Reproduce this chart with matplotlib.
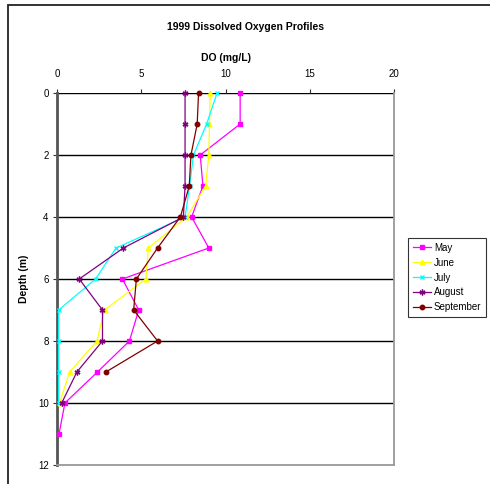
import matplotlib
matplotlib.use("Agg")
import matplotlib.pyplot as plt
from matplotlib.patches import Rectangle

plt.rcParams['font.family'] = ['Liberation Sans', 'DejaVu Sans']

# Dissolved oxygen (mg/L) by depth (m), 1999 monthly profiles
may_depth = [0, 1, 2, 3, 4, 5, 6, 7, 8, 9, 10, 11]
may_do = [10.87, 10.87, 8.5, 8.66, 7.99, 9.01, 3.88, 4.85, 4.3, 2.4, 0.47, 0.12]

june_depth = [0, 1, 2, 3, 4, 5, 6, 7, 8, 9, 10]
june_do = [9.09, 9.05, 9.01, 8.82, 7.7, 5.42, 5.27, 2.82, 2.37, 0.75, 0.15]

july_depth = [0, 1, 2, 3, 4, 5, 6, 7, 8, 9, 10]
july_do = [9.5, 8.88, 8.1, 7.87, 7.6, 3.5, 2.29, 0.1, 0.1, 0.1, 0.1]

aug_depth = [0, 1, 2, 3, 4, 5, 6, 7, 8, 9, 10]
aug_do = [7.6, 7.6, 7.6, 7.6, 7.5, 3.94, 1.32, 2.7, 2.7, 1.18, 0.28]

sep_depth = [0, 1, 2, 3, 4, 5, 6, 7, 8, 9]
sep_do = [8.4, 8.32, 7.95, 7.85, 7.32, 5.97, 4.71, 4.55, 5.97, 2.9]

x_ticks = [0, 5, 10, 15, 20]
y_ticks = [0, 2, 4, 6, 8, 10, 12]

fig = plt.figure(figsize=(4.9, 4.84), dpi=100)

# outer chart border
fig.patches.append(Rectangle((8 / 490, -0.1), 1.2, 1 - 5 / 484 + 0.1,
                             transform=fig.transFigure, fill=False,
                             edgecolor='#222222', linewidth=1.3))

ax = fig.add_axes([57 / 490, 1 - 465 / 484, (394 - 57) / 490, (465 - 93) / 484])

series = [
    ('May', may_do, may_depth, '#FF00FF', 's', 3.0),
    ('June', june_do, june_depth, '#FFFF00', '^', 3.4),
    ('July', july_do, july_depth, '#00FFFF', 'x', 3.4),
    ('August', aug_do, aug_depth, '#800080', (6, 2, 0), 4.2),
    ('September', sep_do, sep_depth, '#800000', 'o', 3.2),
]
for name, xs, ys, color, marker, ms in series:
    ax.plot(xs, ys, color=color, marker=marker, markersize=ms,
            markerfacecolor=color, markeredgecolor=color,
            markeredgewidth=1.0, linewidth=0.9, label=name, clip_on=False, zorder=3)

ax.set_xlim(0, 20)
ax.set_ylim(12, 0)
ax.set_xticks(x_ticks)
ax.set_yticks(y_ticks)
ax.xaxis.tick_top()
ax.xaxis.set_label_position('top')
ax.tick_params(axis='both', labelsize=7, length=3, width=0.8, colors='#333333',
               labelcolor='black', pad=3)
ax.tick_params(axis='x', pad=7)

for d in y_ticks[:-1]:
    ax.axhline(d, color='black', linewidth=1.0, zorder=1)

ax.spines['top'].set_visible(False)
ax.spines['left'].set_color('#555555')
ax.spines['left'].set_linewidth(2.0)
ax.spines['right'].set_color('#999999')
ax.spines['right'].set_linewidth(1.3)
ax.spines['bottom'].set_color('#999999')
ax.spines['bottom'].set_linewidth(1.3)

ax.set_xlabel('DO (mg/L)', fontsize=7.5, fontweight='bold', labelpad=6)
ax.set_ylabel('Depth (m)', fontsize=7.5, fontweight='bold')
ax.yaxis.set_label_coords((29 - 57) / 337, 0.5)

fig.text(245 / 490, 1 - 27 / 484, '1999 Dissolved Oxygen Profiles', ha='center',
         va='center', fontsize=7.5, fontweight='bold')

leg = fig.legend(loc='upper left', bbox_to_anchor=(408 / 490, 1 - 238 / 484),
                 fontsize=7, frameon=True, fancybox=False, handlelength=1.9,
                 handletextpad=0.25, borderpad=0.5, labelspacing=0.5,
                 borderaxespad=0)
leg.get_frame().set_edgecolor('black')
leg.get_frame().set_linewidth(0.8)

fig.savefig('out.png', dpi=100)
